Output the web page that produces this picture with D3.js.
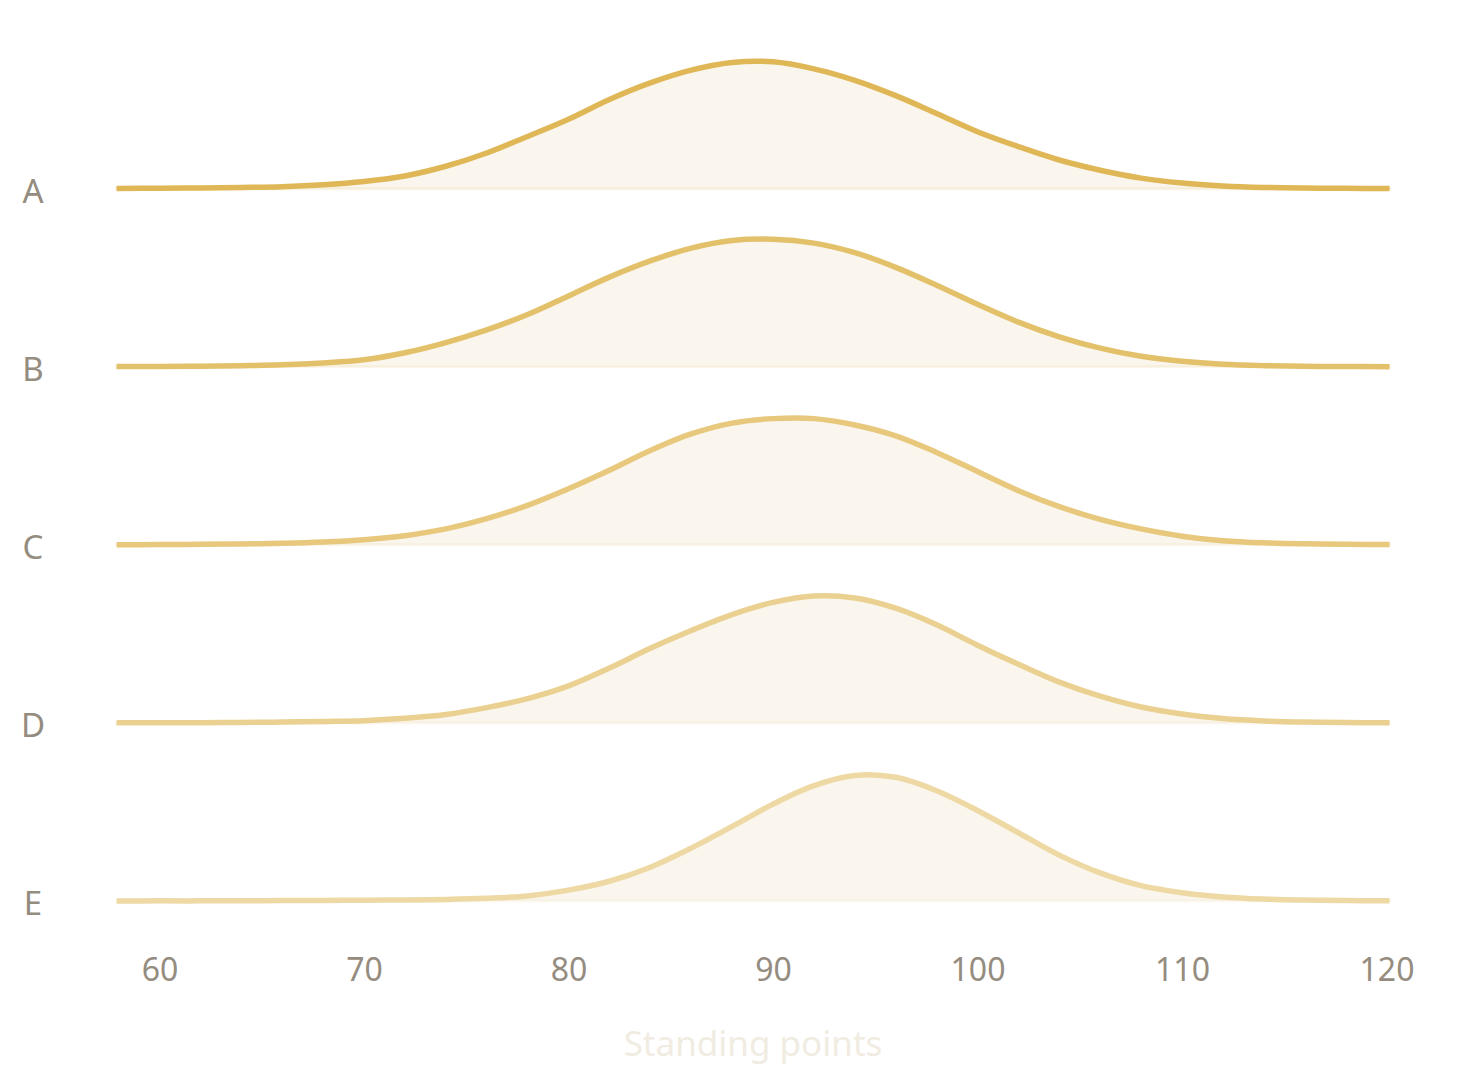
<!DOCTYPE html>
<html>
<head>
<meta charset="utf-8">
<script src="https://cdn.jsdelivr.net/npm/d3@7"></script>
<style>
  body { margin: 0; background: #fff; }
  text { font-family: "Noto Sans", "Open Sans", sans-serif; }
</style>
</head>
<body>
<svg id="svg_ridge"></svg>
<script>

// categories, top to bottom
const categories = ["A", "B", "C", "D", "E"];

// x positions (standing points) where the curves were read
const points = [57.9, 60, 62, 64, 66, 68, 70, 72, 74, 76, 78, 80, 82, 84, 86, 88,
                90, 92, 94, 96, 98, 100, 102, 104, 106, 108, 110, 112, 114, 116, 118, 120.15];

// relative density (1 = peak of the ridge)
const seriesA = [0.002, 0.004, 0.006, 0.010, 0.016, 0.031, 0.057, 0.100, 0.176, 0.280, 0.410, 0.545, 0.700, 0.830, 0.930, 0.990,
                 0.995, 0.940, 0.850, 0.730, 0.590, 0.447, 0.330, 0.225, 0.145, 0.083, 0.045, 0.022, 0.010, 0.005, 0.003, 0.002];
const seriesB = [0.002, 0.003, 0.005, 0.009, 0.015, 0.030, 0.055, 0.110, 0.190, 0.290, 0.410, 0.556, 0.703, 0.830, 0.930, 0.990,
                 1.000, 0.970, 0.895, 0.780, 0.640, 0.490, 0.350, 0.235, 0.146, 0.082, 0.043, 0.020, 0.009, 0.004, 0.002, 0.001];
const seriesC = [0.001, 0.002, 0.004, 0.007, 0.012, 0.022, 0.040, 0.072, 0.125, 0.205, 0.310, 0.440, 0.585, 0.740, 0.870, 0.955,
                 0.990, 0.990, 0.940, 0.855, 0.725, 0.575, 0.425, 0.300, 0.200, 0.125, 0.068, 0.033, 0.016, 0.008, 0.004, 0.002];
const seriesD = [0.001, 0.001, 0.002, 0.004, 0.007, 0.012, 0.018, 0.036, 0.066, 0.120, 0.190, 0.290, 0.430, 0.585, 0.725, 0.850,
                 0.945, 0.995, 0.980, 0.900, 0.770, 0.610, 0.460, 0.320, 0.210, 0.125, 0.070, 0.035, 0.016, 0.007, 0.003, 0.002];
const seriesE = [0.000, 0.001, 0.001, 0.002, 0.003, 0.004, 0.006, 0.008, 0.012, 0.021, 0.040, 0.085, 0.155, 0.265, 0.415, 0.585,
                 0.760, 0.905, 0.985, 0.970, 0.865, 0.710, 0.535, 0.360, 0.220, 0.120, 0.065, 0.032, 0.015, 0.007, 0.003, 0.002];

const tickValues = [60, 70, 80, 90, 100, 110, 120];

const allSeries = [seriesA, seriesB, seriesC, seriesD, seriesE];

const width = 1469;
const height = 1082;

const svg = d3.select("#svg_ridge")
  .attr("width", width)
  .attr("height", height);

// Scales setup
const xscale = d3.scaleLinear().domain([60, 120]).range([159.5, 1386.5]);
const yscale = d3.scalePoint().domain(categories).range([188.7, 901]);   // ridge baselines
const hscale = d3.scaleLinear().domain([0, 1]).range([0, 127.5]);         // ridge height

// colours fade from first ridge to last
const lineColor = d3.scaleLinear()
  .domain([0, categories.length - 1])
  .range(["#dfb756", "#eed9a4"])
  .interpolate(d3.interpolateRgb);

const ridges = categories.map((c, i) => ({
  key: c,
  values: points.map((p, j) => ({x: p, y: allSeries[i][j]}))
}));

const g = svg.append("g");

const ridge = g.selectAll("g.ridge")
  .data(ridges)
  .join("g")
  .attr("class", "ridge")
  .attr("transform", (d) => `translate(0,${yscale(d.key)})`);

const area = d3.area()
  .curve(d3.curveCatmullRom.alpha(0.5))
  .x((d) => xscale(d.x))
  .y0(0)
  .y1((d) => -hscale(d.y));

const line = d3.line()
  .curve(d3.curveCatmullRom.alpha(0.5))
  .x((d) => xscale(d.x))
  .y((d) => -hscale(d.y));

ridge.append("path")
  .attr("d", (d) => area(d.values))
  .attr("fill", "#faf6ee")
  .attr("stroke", (d, i) => lineColor(i))
  .attr("stroke-opacity", 0.15)
  .attr("stroke-width", 3);

ridge.append("path")
  .attr("d", (d) => line(d.values))
  .attr("fill", "none")
  .attr("stroke", (d, i) => lineColor(i))
  .attr("stroke-width", 5.5);

// category labels
ridge.append("text")
  .attr("x", 33)
  .attr("y", 14)
  .attr("text-anchor", "middle")
  .attr("fill", "#958c80")
  .style("font-size", "33px")
  .text((d) => d.key);

// x axis
const xaxis = d3.axisBottom(xscale)
  .tickValues(tickValues)
  .tickSize(0)
  .tickPadding(0);

const g_xaxis = svg.append("g")
  .attr("class", "x axis")
  .attr("transform", "translate(0,958)")
  .call(xaxis);

g_xaxis.select(".domain").remove();
g_xaxis.selectAll("text")
  .attr("dy", "0.71em")
  .attr("fill", "#958c80")
  .style("font-size", "32px")
  .style("font-family", '"Noto Sans", "Open Sans", sans-serif');

svg.append("text")
  .attr("class", "x label")
  .attr("text-anchor", "middle")
  .attr("x", 753)
  .attr("y", 1056)
  .attr("fill", "#f1ece2")
  .style("font-size", "35px")
  .text("Standing points");

</script>
</body>
</html>
